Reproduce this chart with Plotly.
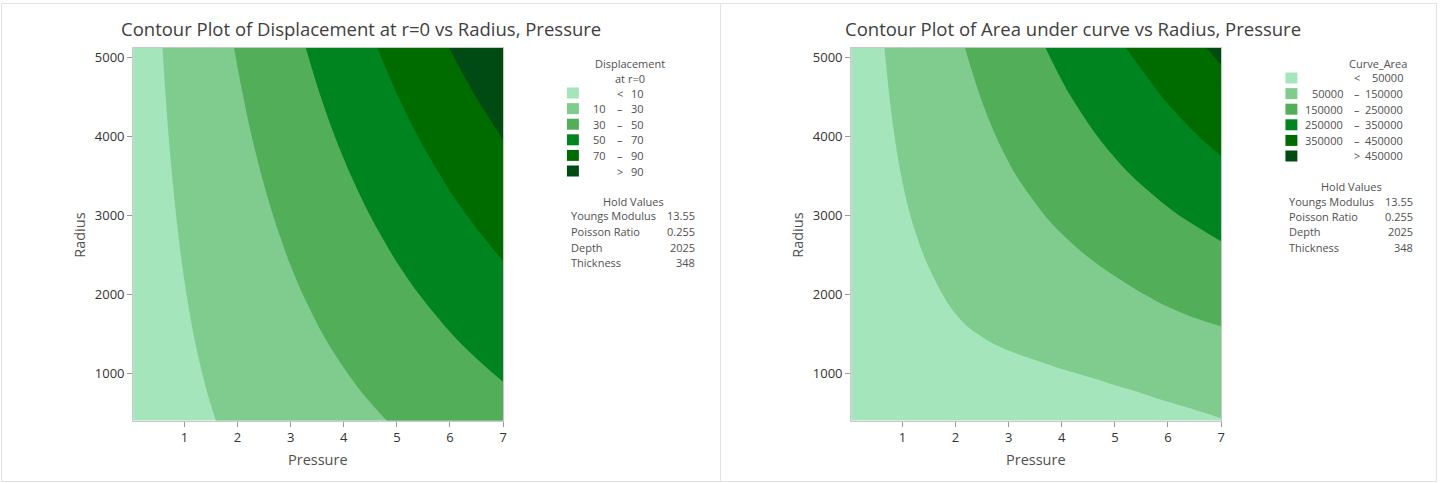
import plotly.graph_objects as go

# ---------------- data ----------------
pressure = [0, 1, 2, 3, 4, 5, 6, 7]

radius_disp = [400, 700, 1000, 1250, 1500, 2000, 2500, 3000, 3500, 4000, 4500, 5130]
displacement = [
    [0.10, 6.31, 12.52, 18.73, 24.94, 31.15, 37.36, 43.57],
    [0.18, 6.93, 13.69, 20.45, 27.20, 33.96, 40.72, 47.47],
    [0.25, 7.55, 14.85, 22.15, 29.45, 36.75, 44.05, 51.35],
    [0.31, 8.07, 15.83, 23.59, 31.35, 39.11, 46.87, 54.63],
    [0.38, 8.60, 16.82, 25.04, 33.26, 41.48, 49.70, 57.92],
    [0.50, 9.63, 18.76, 27.89, 37.02, 46.15, 55.28, 64.41],
    [0.63, 10.67, 20.71, 30.75, 40.79, 50.83, 60.87, 70.91],
    [0.75, 11.70, 22.65, 33.60, 44.55, 55.50, 66.45, 77.40],
    [0.88, 12.74, 24.60, 36.46, 48.32, 60.18, 72.04, 83.90],
    [1.00, 13.78, 26.56, 39.34, 52.12, 64.90, 77.68, 90.46],
    [1.13, 14.82, 28.51, 42.20, 55.89, 69.58, 83.27, 96.96],
    [1.28, 16.12, 30.96, 45.80, 60.64, 75.48, 90.32, 105.16],
]

radius_area = [400, 500, 600, 700, 800, 900, 1000, 1100, 1200, 1300, 1400, 1500, 1600,
               1700, 1800, 1900, 2000, 2250, 2500, 3000, 3500, 4000, 4500, 5130]
curve_area = [
    [2500, 9130, 15760, 22390, 29020, 35650, 42280, 48910],
    [2580, 9660, 16740, 23820, 30900, 37980, 45060, 52140],
    [2660, 10290, 17920, 25550, 33180, 40810, 48440, 56070],
    [2740, 10990, 19240, 27490, 35740, 43990, 52240, 60490],
    [2820, 11770, 20720, 29670, 38620, 47570, 56520, 65470],
    [2900, 12750, 22600, 32450, 42300, 52150, 62000, 71850],
    [2980, 13930, 24880, 35830, 46780, 57730, 68680, 79630],
    [3060, 15360, 27660, 39960, 52260, 64560, 76860, 89160],
    [3140, 17040, 30940, 44840, 58740, 72640, 86540, 100440],
    [3220, 18970, 34720, 50470, 66220, 81970, 97720, 113470],
    [3300, 20900, 38500, 56100, 73700, 91300, 108900, 126500],
    [3380, 22680, 41980, 61280, 80580, 99880, 119180, 138480],
    [3460, 24460, 45460, 66460, 87460, 108460, 129460, 150460],
    [3540, 25990, 48440, 70890, 93340, 115790, 138240, 160690],
    [3620, 27420, 51220, 75020, 98820, 122620, 146420, 170220],
    [3700, 28800, 53900, 79000, 104100, 129200, 154300, 179400],
    [3780, 30080, 56380, 82680, 108980, 135280, 161580, 187880],
    [3980, 33380, 62780, 92180, 121580, 150980, 180380, 209780],
    [4180, 36930, 69680, 102430, 135180, 167930, 200680, 233430],
    [4580, 44040, 83500, 122960, 162420, 201880, 241340, 280800],
    [4980, 50990, 97000, 143010, 189020, 235030, 281040, 327050],
    [5380, 57690, 110000, 162310, 214620, 266930, 319240, 371550],
    [5780, 64190, 122600, 181010, 239420, 297830, 356240, 414650],
    [6280, 72310, 138340, 204370, 270400, 336430, 402460, 468490],
]

disp_levels = [10, 30, 50, 70, 90]
area_levels = [50000, 150000, 250000, 350000, 450000]

disp_legend_rows = [("", "<", "10"), ("10", "–", "30"), ("30", "–", "50"),
                    ("50", "–", "70"), ("70", "–", "90"), ("", ">", "90")]
area_legend_rows = [("", "<", "50000"), ("50000", "–", "150000"), ("150000", "–", "250000"),
                    ("250000", "–", "350000"), ("350000", "–", "450000"), ("", ">", "450000")]

hold_labels = ["Youngs Modulus", "Poisson Ratio", "Depth", "Thickness"]
hold_values = ["13.55", "0.255", "2025", "348"]

x_ticks = [1, 2, 3, 4, 5, 6, 7]
y_ticks = [1000, 2000, 3000, 4000, 5000]

greens = ["#A5E5BB", "#80CC8F", "#53AE5A", "#00841F", "#006C00", "#004B13"]

# ---------------- figure ----------------
W, H = 1442, 483
FONT = "Open Sans"


def px(x):
    return x / W


def py(y):
    return 1 - y / H


def stepped(colors):
    n = len(colors)
    scale = []
    for i, c in enumerate(colors):
        lo = max(0.0, (i - 0.5) / (n - 1))
        hi = min(1.0, (i + 0.5) / (n - 1))
        scale.append([lo, c])
        scale.append([hi, c])
    return scale


fig = go.Figure()

fig.add_trace(go.Contour(
    x=pressure, y=radius_disp, z=displacement,
    autocontour=False,
    contours=dict(start=disp_levels[0], end=disp_levels[-1],
                  size=disp_levels[1] - disp_levels[0],
                  coloring="fill", showlines=False),
    line=dict(width=0),
    colorscale=stepped(greens), showscale=False,
    hoverinfo="skip", xaxis="x", yaxis="y",
))
fig.add_trace(go.Contour(
    x=pressure, y=radius_area, z=curve_area,
    autocontour=False,
    contours=dict(start=area_levels[0], end=area_levels[-1],
                  size=area_levels[1] - area_levels[0],
                  coloring="fill", showlines=False),
    line=dict(width=0),
    colorscale=stepped(greens), showscale=False,
    hoverinfo="skip", xaxis="x2", yaxis="y2",
))

axis_common = dict(
    showline=True, mirror=True, linecolor="#c8c8c8", linewidth=1,
    ticks="outside", ticklen=5, tickcolor="#9a9a9a", tickwidth=1,
    showgrid=False, zeroline=False,
    tickfont=dict(family=FONT, size=13, color="#333333"),
)
xr = [0.035, 7]
yr = [405, 5125]
ydom = [py(420.5), py(48)]

fig.update_layout(
    width=W, height=H,
    margin=dict(l=0, r=0, t=0, b=0),
    paper_bgcolor="white", plot_bgcolor="white",
    showlegend=False,
    xaxis=dict(domain=[px(133.5), px(504.5)], range=xr, tickvals=x_ticks, anchor="y", **axis_common),
    yaxis=dict(domain=ydom, range=yr, tickvals=y_ticks, anchor="x", **axis_common),
    xaxis2=dict(domain=[px(853.5), px(1224.5)], range=xr, tickvals=x_ticks, anchor="y2", **axis_common),
    yaxis2=dict(domain=ydom, range=yr, tickvals=y_ticks, anchor="x2", **axis_common),
)

annotations = []
shapes = []


def text(x, y, s, size=11, color="#505050", xanchor="center", angle=0):
    annotations.append(dict(
        x=px(x), y=py(y), xref="paper", yref="paper", text=s, showarrow=False,
        xanchor=xanchor, yanchor="middle", textangle=angle,
        font=dict(family=FONT, size=size, color=color)))


# panel frames
shapes.append(dict(type="rect", xref="paper", yref="paper",
                   x0=px(1.5), x1=px(722.5), y0=py(481.5), y1=py(3.5),
                   line=dict(color="#e2e2e2", width=1)))
shapes.append(dict(type="rect", xref="paper", yref="paper",
                   x0=px(722.5), x1=px(1440.5), y0=py(481.5), y1=py(3.5),
                   line=dict(color="#e2e2e2", width=1)))

# titles
text(362, 28, "Contour Plot of Displacement at r=0 vs Radius, Pressure", size=18.5, color="#404040")
text(1076, 28, "Contour Plot of Area under curve vs Radius, Pressure", size=18.5, color="#404040")

# axis titles
text(319, 459, "Pressure", size=14.5, color="#505050")
text(1039, 459, "Pressure", size=14.5, color="#505050")
text(79, 235, "Radius", size=14.5, color="#505050", angle=-90)
text(799, 235, "Radius", size=14.5, color="#505050", angle=-90)


def legend(title_lines, title_y, rows, row_y0, sw_x, low_r, sign_c, high_r,
           hold_y, hold_c, lab_l, val_r):
    for i, t in enumerate(title_lines):
        text((low_r + high_r) / 2 + 3, title_y + i * 14.5, t, size=11)
    for i, (lo, sg, hi) in enumerate(rows):
        yy = row_y0 + i * 15.6
        shapes.append(dict(type="rect", xref="paper", yref="paper",
                           x0=px(sw_x), x1=px(sw_x + 12), y0=py(yy + 5.5), y1=py(yy - 5.5),
                           fillcolor=greens[i], line=dict(width=0)))
        if lo:
            text(low_r, yy, lo, xanchor="right")
        text(sign_c, yy, sg)
        text(high_r, yy, hi, xanchor="right")
    text(hold_c, hold_y, "Hold Values")
    for i, (lab, val) in enumerate(zip(hold_labels, hold_values)):
        yy = hold_y + 15 + i * 15.5
        text(lab_l, yy, lab, xanchor="left")
        text(val_r, yy, val, xanchor="right")


legend(["Displacement", "at r=0"], 64, disp_legend_rows, 93, 568.5, 610, 622, 648,
       201, 635, 571, 699)
legend(["Curve_Area"], 64, area_legend_rows, 78, 1289, 1349, 1361, 1409,
       186, 1355, 1291, 1419)

fig.update_layout(annotations=annotations, shapes=shapes)

fig.write_html("out.html")
